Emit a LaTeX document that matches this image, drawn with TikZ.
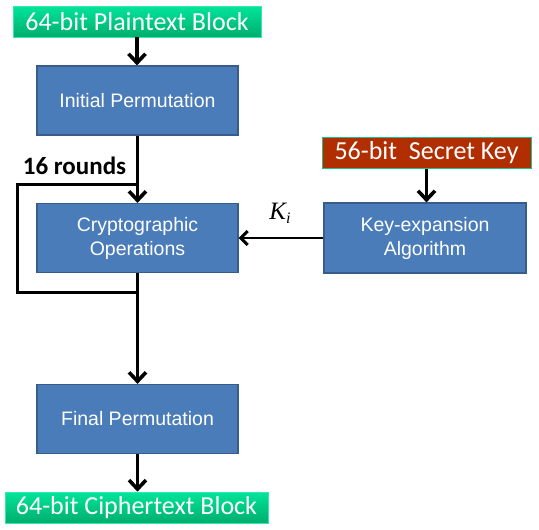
\documentclass[tikz,border=0pt]{standalone}
\usepackage{fontspec}
\setmainfont{Liberation Sans}
\newfontfamily\calfont{Carlito}
\newfontfamily\serfont{Liberation Serif}
\usetikzlibrary{arrows.meta}
\definecolor{boxblue}{HTML}{4A7CB9}
\definecolor{boxedge}{HTML}{385D8A}
\definecolor{gtop}{HTML}{00E59A}
\definecolor{gbot}{HTML}{00AD6E}
\definecolor{keyred}{HTML}{B02E00}
\definecolor{tealedge}{HTML}{20C08A}
\tikzset{
  bluebox/.style={rectangle, fill=boxblue, draw=boxedge, line width=1.2pt,
    minimum width=201pt, minimum height=69pt, inner sep=0pt, text=white,
    font=\fontsize{19.5}{24}\selectfont, align=center},
  greenbox/.style={rectangle, top color=gtop, bottom color=gbot, draw=gtop!80!white,
    line width=0.6pt, minimum height=31pt, inner sep=0pt, text=white,
    font=\calfont\fontsize{26}{28}\selectfont},
  redbox/.style={rectangle, fill=keyred, draw=tealedge, line width=1pt,
    minimum height=31pt, inner sep=0pt, text=white,
    font=\calfont\fontsize{26}{28}\selectfont},
  flow/.style={line width=3.2pt, -{Straight Barb[length=9pt,width=17pt,line width=3.6pt]}},
  kflow/.style={line width=2.8pt, -{Straight Barb[length=7pt,width=14pt,line width=3pt]}},
  loopline/.style={line width=3pt},
}
\begin{document}
\begin{tikzpicture}[x=1pt,y=-1pt]
\useasboundingbox (0,0) rectangle (539,530);
\node[greenbox, minimum width=248pt] (plain) at (137,21.5) {64-bit Plaintext Block};
\node[bluebox] (ip) at (137.5,100.5) {Initial Permutation};
\node[bluebox] (crypto) at (137.5,238) {Cryptographic\\Operations};
\node[bluebox] (final) at (137.5,419) {Final Permutation};
\node[greenbox, minimum width=263pt] (cipher) at (136.5,507.5) {64-bit Ciphertext Block};
\node[bluebox, minimum width=202pt, minimum height=70pt] (keyexp) at (425,238) {Key-expansion\\Algorithm};
\node[redbox, minimum width=209pt] (secret) at (426.5,152.5) {56-bit\ \ Secret Key};
\node[font=\calfont\bfseries\fontsize{25}{26}\selectfont, inner sep=0pt] (rounds) at (74.5,165.5) {16 rounds};
\node[font=\serfont\itshape\fontsize{25}{26}\selectfont, inner sep=0pt] (ki) at (280,213) {K\raisebox{-0.35ex}{\fontsize{16}{16}\selectfont i}};
\coordinate (lt) at (17,184);
\coordinate (lb) at (17,292);
\draw[flow] (plain.south) -- (plain.south |- ip.north);
\draw[flow] (ip.south) -- (crypto.north);
\draw[flow] (crypto.south) -- (final.north);
\draw[flow] (final.south) -- (final.south |- cipher.north);
\draw[loopline] (crypto.north |- lt) -- (lt) -- (lb) -- (crypto.south |- lb);
\draw[flow] (secret.south) -- (secret.south |- keyexp.north);
\draw[kflow] (keyexp.west) -- (crypto.east);
\end{tikzpicture}
\end{document}
